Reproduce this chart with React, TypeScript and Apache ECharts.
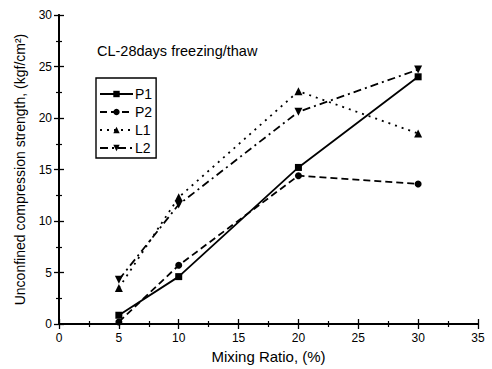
import React, { useEffect, useRef } from "react";
import * as echarts from "echarts";

const mixingRatio = [5, 10, 20, 30];
const p1 = [0.85, 4.6, 15.2, 24.0];
const p2 = [0.2, 5.7, 14.4, 13.6];
const l1 = [3.5, 12.3, 22.6, 18.5];
const l2 = [4.3, 11.6, 20.6, 24.7];
const xTicks = [0, 5, 10, 15, 20, 25, 30, 35];
const yTicks = [0, 5, 10, 15, 20, 25, 30];

const FONT = "Liberation Sans, Arial, sans-serif";
const INV_TRI = "path://M0,0 L10,0 L5,9 Z";

export default function App() {
  const ref = useRef<HTMLDivElement>(null);
  useEffect(() => {
    const chart = echarts.init(ref.current!, null, { renderer: "svg" });
    const mk = (name: string, ys: number[], symbol: string, type: any, size: number) => ({
      name,
      type: "line",
      data: mixingRatio.map((x, i) => [x, ys[i]]),
      symbol,
      symbolSize: size,
      itemStyle: { color: "#000" },
      lineStyle: { color: "#000", width: 1.8, type },
    });
    const axisCommon = {
      axisLine: { show: true, lineStyle: { color: "#000", width: 2 } },
      axisTick: { show: true, inside: true, length: 5, lineStyle: { color: "#000", width: 1.3 } },
      minorTick: { show: true, splitNumber: 2, length: 3, lineStyle: { color: "#000", width: 1.2 } },
      splitLine: { show: false },
    };
    chart.setOption({
      animation: false,
      backgroundColor: "#fff",
      grid: { left: 59, right: 14, top: 15, bottom: 44, show: false },
      title: {
        text: "CL-28days freezing/thaw",
        left: 92,
        top: 38,
        textStyle: { fontFamily: FONT, fontSize: 14.5, fontWeight: "normal", color: "#000" },
      },
      legend: {
        orient: "vertical",
        left: 96,
        top: 78,
        width: 57,
        padding: [9, 4, 3, 3],
        itemGap: 4,
        itemWidth: 33,
        itemHeight: 8,
        borderColor: "#000",
        borderWidth: 1.4,
        textStyle: { fontFamily: FONT, fontSize: 14, color: "#000", padding: [0, 0, 0, -3] },
        data: ["P1", "P2", "L1", "L2"],
      },
      xAxis: [
        {
          type: "value",
          min: 0,
          max: 35,
          interval: 5,
          name: "Mixing Ratio, (%)",
          nameLocation: "middle",
          nameGap: 25,
          nameTextStyle: { fontFamily: FONT, fontSize: 15, color: "#000" },
          axisLabel: {
            fontFamily: FONT,
            fontSize: 12,
            color: "#000",
            margin: 8,
            formatter: (v: number) => (xTicks.includes(v) ? String(v) : ""),
          },
          ...axisCommon,
        },
        {
          type: "value",
          position: "top",
          min: 0,
          max: 35,
          interval: 5,
          axisLabel: { show: false },
          ...axisCommon,
        },
      ],
      yAxis: [
        {
          type: "value",
          min: 0,
          max: 30,
          interval: 5,
          name: "Unconfined compression strength, (kgf/cm\u00B2)",
          nameLocation: "middle",
          nameGap: 32,
          nameTextStyle: { fontFamily: FONT, fontSize: 14, color: "#000" },
          axisLabel: {
            fontFamily: FONT,
            fontSize: 12,
            color: "#000",
            margin: 7,
            formatter: (v: number) => (yTicks.includes(v) ? String(v) : ""),
          },
          ...axisCommon,
        },
        {
          type: "value",
          position: "right",
          min: 0,
          max: 30,
          interval: 5,
          axisLabel: { show: false },
          ...axisCommon,
        },
      ],
      series: [
        mk("P1", p1, "rect", "solid", 7),
        mk("P2", p2, "circle", [7, 4], 7),
        mk("L1", l1, "triangle", [2, 5], 8),
        mk("L2", l2, INV_TRI, [8, 4, 2, 4], 8),
      ],
    });
    return () => chart.dispose();
  }, []);
  return (
    <div
      ref={ref}
      style={{ position: "fixed", left: 0, top: 0, width: 492, height: 369 }}
    />
  );
}
